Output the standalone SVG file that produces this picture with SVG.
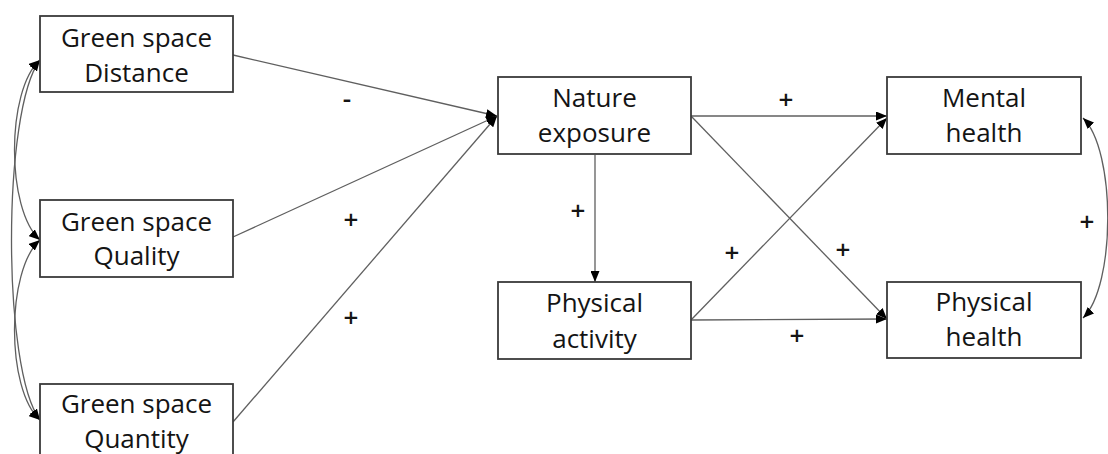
<svg xmlns="http://www.w3.org/2000/svg" width="1108" height="454" viewBox="0 0 1108 454">
  <style>
    .box { fill: #ffffff; stroke: #3a3a3a; stroke-width: 1.8; }
    .label { font-family: "Open Sans", "Liberation Sans", sans-serif; font-size: 26px; fill: #141414; text-anchor: middle; }
    .sign { font-family: "Open Sans", "Liberation Sans", sans-serif; font-size: 26px; font-weight: 600; fill: #141414; text-anchor: middle; dominant-baseline: central; }
    .edge { fill: none; stroke: #5f5f5f; stroke-width: 1.3; }
  </style>
  <defs>
    <marker id="arrow" viewBox="0 0 11 9" refX="11" refY="4.5" markerWidth="11" markerHeight="9" markerUnits="userSpaceOnUse" orient="auto-start-reverse">
      <path d="M0,0 L11,4.5 L0,9 z" fill="#000000"/>
    </marker>
  </defs>

  <rect width="1108" height="454" fill="#ffffff"/>

  <!-- connectors -->
  <g id="connectors">
    <!-- green space predictors to nature exposure -->
    <line class="edge" x1="233" y1="55" x2="497" y2="116" marker-end="url(#arrow)"/>
    <line class="edge" x1="233" y1="237" x2="497" y2="116" marker-end="url(#arrow)"/>
    <line class="edge" x1="233" y1="422" x2="497" y2="116" marker-end="url(#arrow)"/>
    <!-- nature exposure paths -->
    <line class="edge" x1="595" y1="155" x2="595" y2="282" marker-end="url(#arrow)"/>
    <line class="edge" x1="691" y1="116" x2="887" y2="116" marker-end="url(#arrow)"/>
    <line class="edge" x1="691" y1="116" x2="887" y2="319" marker-end="url(#arrow)"/>
    <!-- physical activity paths -->
    <line class="edge" x1="691" y1="320" x2="887" y2="118" marker-end="url(#arrow)"/>
    <line class="edge" x1="691" y1="320" x2="887" y2="319" marker-end="url(#arrow)"/>
    <!-- covariances among green space measures -->
    <path class="edge" d="M40,60 C6,90 6,210 40,240" marker-start="url(#arrow)" marker-end="url(#arrow)"/>
    <path class="edge" d="M40,240 C6,270 6,390 40,420" marker-start="url(#arrow)" marker-end="url(#arrow)"/>
    <path class="edge" d="M40,60 C2,110 2,370 40,420" marker-start="url(#arrow)" marker-end="url(#arrow)"/>
    <!-- covariance between outcomes -->
    <path class="edge" d="M1083,118 C1116,150 1116,286 1083,318" marker-start="url(#arrow)" marker-end="url(#arrow)"/>
  </g>

  <!-- path signs -->
  <g id="signs">
    <text class="sign" x="347" y="98">-</text>
    <text class="sign" x="351" y="219">+</text>
    <text class="sign" x="351" y="317">+</text>
    <text class="sign" x="578" y="210">+</text>
    <text class="sign" x="786" y="99">+</text>
    <text class="sign" x="732" y="252">+</text>
    <text class="sign" x="843" y="249">+</text>
    <text class="sign" x="797" y="335">+</text>
    <text class="sign" x="1087" y="221">+</text>
  </g>

  <g id="distance">
    <rect class="box" x="40" y="16" width="193" height="76"/>
    <text class="label" x="136.5" y="47">Green space</text>
    <text class="label" x="136.5" y="82">Distance</text>
  </g>

  <g id="quality">
    <rect class="box" x="40" y="200" width="193" height="77"/>
    <text class="label" x="136.5" y="231">Green space</text>
    <text class="label" x="136.5" y="265">Quality</text>
  </g>

  <g id="quantity">
    <rect class="box" x="40" y="384" width="193" height="77"/>
    <text class="label" x="136.5" y="413">Green space</text>
    <text class="label" x="136.5" y="448">Quantity</text>
  </g>

  <g id="nature-exposure">
    <rect class="box" x="498" y="77" width="193" height="77"/>
    <text class="label" x="594.5" y="107">Nature</text>
    <text class="label" x="594.5" y="142">exposure</text>
  </g>

  <g id="physical-activity">
    <rect class="box" x="498" y="282" width="193" height="77"/>
    <text class="label" x="594.5" y="312">Physical</text>
    <text class="label" x="594.5" y="348">activity</text>
  </g>

  <g id="mental-health">
    <rect class="box" x="887" y="77" width="194" height="77"/>
    <text class="label" x="984" y="107">Mental</text>
    <text class="label" x="984" y="142">health</text>
  </g>

  <g id="physical-health">
    <rect class="box" x="887" y="282" width="194" height="76"/>
    <text class="label" x="984" y="311">Physical</text>
    <text class="label" x="984" y="346">health</text>
  </g>
</svg>
